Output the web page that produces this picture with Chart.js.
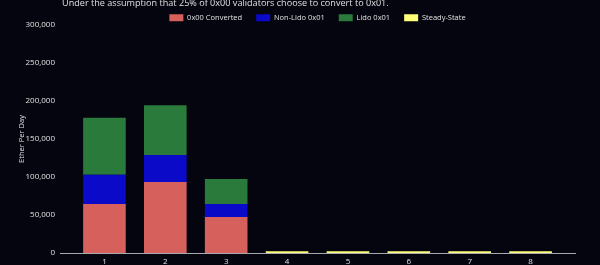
<!DOCTYPE html>
<html>
<head>
<meta charset="utf-8">
<script src="https://cdn.jsdelivr.net/npm/chart.js@4"></script>
<style>
html,body{margin:0;padding:0;background:#05050f;}
#wrap{position:absolute;left:0;top:0;width:600px;height:265px;}
</style>
</head>
<body>
<div id="wrap"><canvas id="c" width="600" height="265"></canvas></div>
<script>
const titleText = "Under the assumption that 25% of 0x00 validators choose to convert to 0x01.";
const categories = [1, 2, 3, 4, 5, 6, 7, 8];
const converted00 = [64500, 93500, 47500, 0, 0, 0, 0, 0];
const nonLido01 = [38500, 35500, 17000, 0, 0, 0, 0, 0];
const lido01 = [75000, 65500, 33000, 0, 0, 0, 0, 0];
const steadyState = [0, 0, 0, 2400, 2400, 2400, 2400, 2400];
const yTicks = [0, 50000, 100000, 150000, 200000, 250000, 300000];

const toPts = arr => categories.map((c, i) => ({x: c, y: arr[i]}));
const textColor = '#e0e0e0';
const FF = '"Open Sans", "DejaVu Sans", sans-serif';
const font = {family: FF, size: 8};

const titlePlugin = {
  id: 'topTitle',
  beforeUpdate(chart) {
    const lg = chart.legend;
    if (lg && !lg._patched) {
      const orig = lg.fit.bind(lg);
      lg.fit = function () { orig(); this.height = 25; };
      lg._patched = true;
    }
  },
  afterDraw(chart) {
    const ctx = chart.ctx;
    ctx.save();
    ctx.font = '9.1px ' + FF;
    ctx.fillStyle = textColor;
    ctx.textAlign = 'left';
    ctx.textBaseline = 'alphabetic';
    ctx.fillText(titleText, 62, 6);
    ctx.restore();
  }
};

new Chart(document.getElementById('c'), {
  type: 'bar',
  data: {
    datasets: [
      {label: '0x00 Converted', data: toPts(converted00), backgroundColor: '#d6605c', borderWidth: 0},
      {label: 'Non-Lido 0x01', data: toPts(nonLido01), backgroundColor: '#0a0ac8', borderWidth: 0},
      {label: 'Lido 0x01', data: toPts(lido01), backgroundColor: '#2a7a3c', borderWidth: 0},
      {label: 'Steady-State', data: toPts(steadyState), backgroundColor: '#ffff78', borderWidth: 0}
    ]
  },
  options: {
    responsive: false,
    animation: false,
    maintainAspectRatio: false,
    layout: {padding: {left: 0, right: 25, top: 0, bottom: 0}},
    datasets: {bar: {categoryPercentage: 1, barPercentage: 0.7}},
    plugins: {
      legend: {
        fullSize: false,
        position: 'top',
        labels: {
          color: textColor,
          font: {family: FF, size: 7.5},
          boxWidth: 14,
          boxHeight: 7,
          padding: 14
        }
      },
      title: {display: false},
      tooltip: {enabled: false}
    },
    scales: {
      x: {
        type: 'linear',
        offset: false,
        stacked: true,
        min: 0.27,
        max: 8.73,
        afterBuildTicks: s => { s.ticks = categories.map(v => ({value: v})); },
        afterFit: s => { s.height = 12; },
        grid: {display: false, drawTicks: false},
        border: {display: true, color: '#a8a8b0', width: 1},
        ticks: {color: textColor, font: font, padding: 4, autoSkip: false, maxRotation: 0}
      },
      y: {
        stacked: true,
        min: 0,
        max: 300000,
        afterBuildTicks: s => { s.ticks = yTicks.map(v => ({value: v})); },
        afterFit: s => { s.width = 60; },
        grid: {display: false, drawTicks: false},
        border: {display: false},
        ticks: {
          color: textColor, font: font, padding: 5,
          callback: v => v.toLocaleString('en-US')
        },
        title: {display: true, text: 'Ether Per Day', color: textColor, font: {family: FF, size: 7.5}, padding: {top: 17, bottom: 0}}
      }
    }
  },
  plugins: [titlePlugin]
});
</script>
</body>
</html>
